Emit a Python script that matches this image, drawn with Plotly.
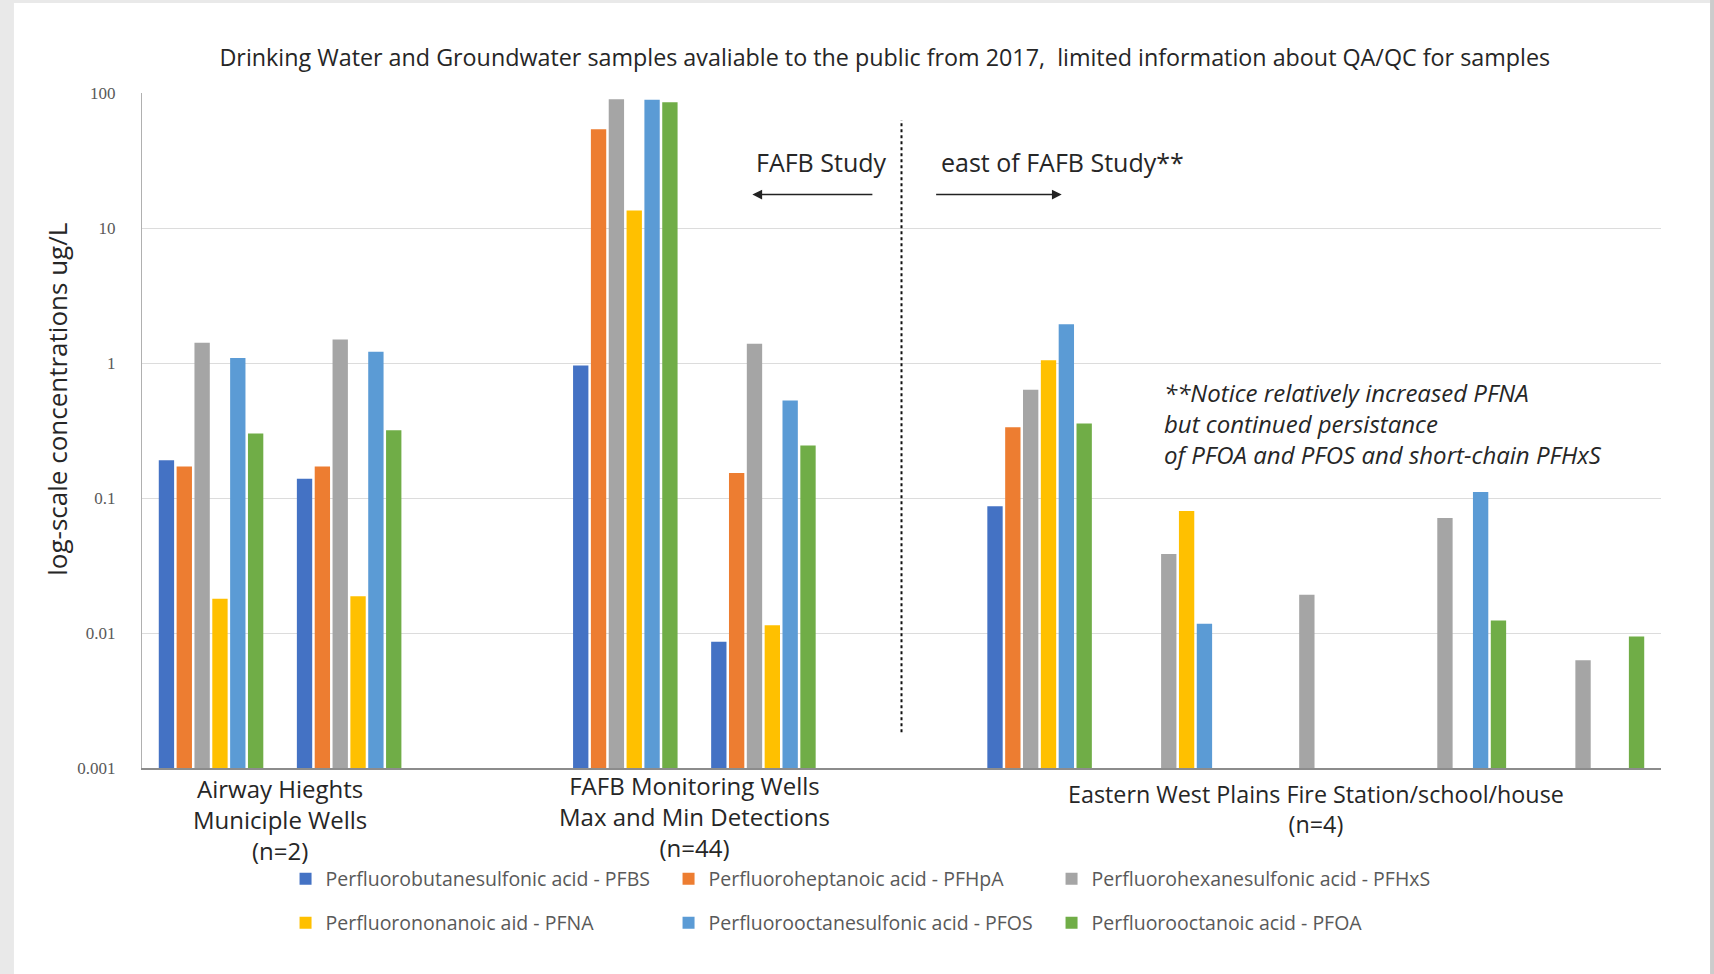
import plotly.graph_objects as go

# Sample groups sit on numbered slots; slots 2 and 5 stay empty to separate the study areas
slots = [0, 1, 3, 4, 6, 7, 8, 9, 10]

# Concentrations (ug/L) per slot; None = not detected
pfbs = [0.19, 0.139, 0.96, 0.0086, 0.087, None, None, None, None]
pfhpa = [0.171, 0.171, 54, 0.153, 0.334, None, None, None, None]
pfhxs = [1.41, 1.49, 90, 1.39, 0.633, 0.0385, 0.0192, 0.0712, 0.00627]
pfna = [0.0179, 0.0187, 13.5, 0.0114, 1.05, 0.080, None, None, None]
pfos = [1.09, 1.21, 89, 0.527, 1.94, 0.0117, None, 0.111, None]
pfoa = [0.30, 0.317, 85.5, 0.245, 0.357, None, None, 0.0124, 0.00944]

series = [
    ("Perfluorobutanesulfonic acid - PFBS", pfbs, "#4472C4", "legend"),
    ("Perfluoroheptanoic acid - PFHpA", pfhpa, "#ED7D31", "legend"),
    ("Perfluorohexanesulfonic acid - PFHxS", pfhxs, "#A5A5A5", "legend"),
    ("Perfluorononanoic aid - PFNA", pfna, "#FFC000", "legend2"),
    ("Perfluorooctanesulfonic acid - PFOS", pfos, "#5B9BD5", "legend2"),
    ("Perfluorooctanoic acid - PFOA", pfoa, "#70AD47", "legend2"),
]

# Category labels: text, slots covered, top of label (paper y), font size
group_labels = [
    ("Airway Hieghts<br>Municiple Wells<br>(n=2)", [0, 1], -0.003, 24),
    ("FAFB Monitoring Wells<br>Max and Min Detections<br>(n=44)", [3, 4], 0.0015, 24),
    ("Eastern West Plains Fire Station/school/house<br>(n=4)", [6, 7, 8, 9, 10], -0.012, 23.3),
]

tick_vals = [0.001, 0.01, 0.1, 1, 10, 100]
tick_text = ["0.001", "0.01", "0.1", "1", "10", "100"]

divider_slot = 5

TEXT = "#262626"
FONT = "Open Sans"

fig = go.Figure()
for name, vals, color, leg in series:
    fig.add_trace(go.Bar(
        x=slots, y=vals, name=name, marker=dict(color=color, line=dict(width=0)),
        legend=leg,
    ))

annotations = []
for text, members, ytop, fsize in group_labels:
    annotations.append(dict(
        x=sum(members) / len(members), xref="x", y=ytop, yref="paper",
        text=text, showarrow=False, xanchor="center", yanchor="top",
        font=dict(family=FONT, size=fsize, color=TEXT), align="center",
    ))

# Study-area captions and arrows around the divider
annotations += [
    dict(x=divider_slot - 0.09, xref="x", y=0.898, yref="paper", text="FAFB Study",
         showarrow=False, xanchor="right", yanchor="middle",
         font=dict(family=FONT, size=25, color=TEXT)),
    dict(x=divider_slot + 0.27, xref="x", y=0.898, yref="paper", text="east of FAFB Study**",
         showarrow=False, xanchor="left", yanchor="middle",
         font=dict(family=FONT, size=25, color=TEXT)),
    dict(x=divider_slot - 1.08, xref="x", y=0.8495, yref="paper", text="",
         ax=divider_slot - 0.2, axref="x", ay=0, ayref="pixel",
         showarrow=True, arrowhead=2, arrowsize=1.3, arrowwidth=1.5, arrowcolor="#222"),
    dict(x=divider_slot + 1.16, xref="x", y=0.8495, yref="paper", text="",
         ax=divider_slot + 0.24, axref="x", ay=0, ayref="pixel",
         showarrow=True, arrowhead=2, arrowsize=1.3, arrowwidth=1.5, arrowcolor="#222"),
    dict(x=6.886, xref="x", y=0.511, yref="paper",
         text="<i>**Notice relatively increased PFNA<br>but continued persistance<br>"
              "of PFOA and PFOS and short-chain PFHxS</i>",
         showarrow=False, xanchor="left", yanchor="middle", align="left",
         font=dict(family=FONT, size=24, color=TEXT)),
    # y-axis title
    dict(x=-0.056, xref="paper", y=0.547, yref="paper", text="log-scale concentrations ug/L",
         textangle=-90, showarrow=False, xanchor="center", yanchor="middle",
         font=dict(family=FONT, size=26, color=TEXT)),
]

shapes = [
    # page frame
    dict(type="rect", xref="paper", yref="paper", x0=-0.0843, x1=1.0323, y0=-0.31, y1=1.1333,
         fillcolor="white", line=dict(width=0), layer="below"),
    dict(type="rect", xref="paper", yref="paper", x0=1.0323, x1=1.04, y0=-0.31, y1=1.2,
         fillcolor="#cccccc", line=dict(width=0), layer="below"),
    # divider between study areas
    dict(type="line", xref="x", yref="paper", x0=divider_slot, x1=divider_slot, y0=0.053, y1=0.96,
         line=dict(color="#111", width=2, dash="dot")),
]

legend_common = dict(
    orientation="h", xanchor="left", yanchor="middle",
    font=dict(family=FONT, size=19.5, color="#595959"),
    entrywidth=338, entrywidthmode="pixels", bgcolor="rgba(0,0,0,0)",
    itemclick=False, itemdoubleclick=False,
)

fig.update_layout(
    width=1714, height=974,
    margin=dict(l=142, r=53, t=93, b=206),
    paper_bgcolor="#e9e9e9", plot_bgcolor="rgba(0,0,0,0)",
    barmode="group", bargap=0.225, bargroupgap=0.14,
    title=dict(
        text="Drinking Water and Groundwater samples avaliable to the public from 2017,  limited information about QA/QC for samples",
        x=0.489, xref="paper", xanchor="center", y=1 - 58 / 974, yanchor="middle",
        font=dict(family=FONT, size=23.3, color=TEXT),
    ),
    xaxis=dict(range=[-0.5, 10.5], showticklabels=False, showgrid=False, zeroline=False,
               showline=True, linecolor="#8c8c8c", linewidth=2, ticks=""),
    yaxis=dict(type="log", range=[-3, 2], tickvals=tick_vals, ticktext=tick_text,
               showgrid=True, gridcolor="#dcdcdc", gridwidth=1, zeroline=False,
               showline=True, linecolor="#b0b0b0", linewidth=1,
               ticklabelstandoff=22,
               tickfont=dict(family="Liberation Serif", size=17, color="#595959")),
    legend=dict(x=0.0945, y=-0.1644, **legend_common),
    legend2=dict(x=0.0945, y=-0.2296, **legend_common),
    annotations=annotations,
    shapes=shapes,
    showlegend=True,
)

fig.write_html("out.html")
